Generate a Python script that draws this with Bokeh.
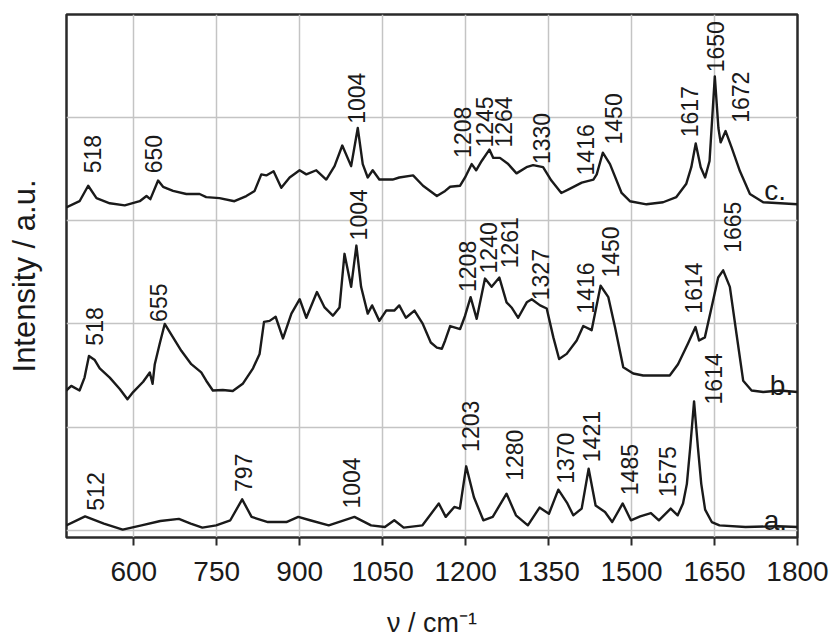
import math
from bokeh.plotting import figure
from bokeh.models import FixedTicker, LinearAxis
from bokeh.core.properties import value
from bokeh.embed import file_html
from bokeh.resources import INLINE

# ---- spectrum c (top) ----
wn_c = [478, 502, 517.6, 532.6, 556.6, 583.7, 610.8, 623, 630, 644, 653, 671, 695, 719, 731,
        755, 782, 803.5, 818.5, 830.6, 839.6, 852.8, 866.7, 881.8, 899.8, 912, 930, 948, 963,
        977, 993, 1005, 1014, 1023, 1032, 1044, 1068, 1080, 1105, 1123, 1148, 1163, 1172,
        1190, 1199, 1211, 1219, 1229, 1243, 1250, 1262, 1277, 1292, 1310, 1322, 1340, 1355,
        1373, 1388, 1410, 1431, 1437, 1448, 1461, 1482, 1497, 1527, 1557, 1581, 1599, 1608,
        1616, 1625, 1633, 1641, 1650.5, 1657, 1661, 1670, 1681, 1696, 1714, 1738, 1800]
int_c = [3.13, 3.19, 3.34, 3.22, 3.17, 3.15, 3.19, 3.24, 3.21, 3.39, 3.33, 3.29, 3.26, 3.26, 3.23,
         3.22, 3.19, 3.24, 3.29, 3.45, 3.44, 3.48, 3.32, 3.42, 3.49, 3.45, 3.49, 3.40, 3.53,
         3.73, 3.53, 3.90, 3.55, 3.42, 3.49, 3.40, 3.40, 3.42, 3.44, 3.34, 3.24, 3.29, 3.33,
         3.34, 3.42, 3.55, 3.49, 3.58, 3.69, 3.61, 3.61, 3.55, 3.46, 3.52, 3.54, 3.52, 3.39,
         3.27, 3.31, 3.37, 3.40, 3.45, 3.66, 3.55, 3.27, 3.19, 3.16, 3.18, 3.23, 3.36, 3.52,
         3.75, 3.52, 3.42, 3.58, 4.40, 3.90, 3.76, 3.87, 3.71, 3.48, 3.26, 3.18, 3.16]

# ---- spectrum b (middle) ----
wn_b = [478, 487, 502, 511, 519, 529.5, 538.5, 556.6, 574.7, 588.6, 598.9, 617, 629, 634, 638,
        647, 656, 671, 686, 704, 722, 731, 743, 761, 779, 797, 815.6, 827.5, 835.5, 845.6,
        856.5, 869.8, 885, 900, 912, 931.2, 945, 960, 972, 981, 993, 1002.5, 1011, 1023, 1031,
        1044, 1056.4, 1071, 1080, 1092, 1107.5, 1122.6, 1137, 1148, 1157, 1163, 1172, 1190,
        1199, 1209, 1220, 1235, 1247, 1261, 1274, 1283, 1295, 1310.5, 1319.5, 1334.6, 1346.6,
        1358.6, 1369, 1382.7, 1400.8, 1412.7, 1427.8, 1444, 1458, 1470, 1485, 1503, 1521, 1551,
        1569, 1584, 1602, 1615.6, 1622, 1632.5, 1644.6, 1656.6, 1665.6, 1677.7, 1689.8, 1701.8,
        1717, 1738, 1768, 1800]
int_b = [1.355, 1.40, 1.355, 1.48, 1.69, 1.65, 1.57, 1.48, 1.37, 1.27, 1.34, 1.44, 1.53, 1.42, 1.61,
         1.81, 2.00, 1.87, 1.74, 1.61, 1.53, 1.45, 1.355, 1.36, 1.35, 1.42, 1.57, 1.71, 2.02, 2.03,
         2.07, 1.86, 2.10, 2.24, 2.06, 2.31, 2.16, 2.08, 2.16, 2.68, 2.36, 2.76, 2.36, 2.10, 2.18,
         2.03, 2.13, 2.13, 2.18, 2.06, 2.13, 2.00, 1.82, 1.77, 1.76, 1.84, 1.98, 1.95,
         2.08, 2.26, 2.05, 2.44, 2.36, 2.45, 2.21, 2.16, 2.06, 2.21, 2.24, 2.18, 2.15,
         1.87, 1.66, 1.71, 1.84, 1.98, 1.94, 2.37, 2.26, 1.97, 1.58, 1.52, 1.50, 1.50,
         1.50, 1.61, 1.81, 1.97, 1.84, 1.87, 2.16, 2.45, 2.52, 2.36, 1.90, 1.45,
         1.355, 1.34, 1.355, 1.34]

# ---- spectrum a (bottom) ----
wn_a = [478, 512, 546, 580, 614, 648, 681.6, 703, 724, 749, 774.6, 796, 813, 842.5, 876, 897.4,
        918.7, 952.5, 999, 1029, 1054, 1071, 1088, 1122, 1151.5, 1164, 1179.5, 1189.6, 1201,
        1215, 1232, 1249, 1274, 1291, 1312.5, 1333.6, 1350.6, 1367.6, 1384, 1394.6, 1409.8,
        1422.4, 1435, 1452, 1465, 1484, 1498.8, 1515.6, 1535, 1549.4, 1570.7, 1583.4, 1593,
        1600, 1606, 1613, 1620, 1626, 1633, 1645, 1659, 1706, 1765, 1800]
int_a = [0.048, 0.135, 0.065, 0.007, 0.048, 0.09, 0.11, 0.065, 0.026, 0.048, 0.097, 0.30, 0.13,
         0.08, 0.08, 0.13, 0.097, 0.048, 0.13, 0.048, 0.032, 0.097, 0.026, 0.048, 0.26, 0.13,
         0.226, 0.21, 0.62, 0.32, 0.097, 0.13, 0.355, 0.145, 0.048, 0.22, 0.16, 0.394, 0.26,
         0.145, 0.21, 0.597, 0.24, 0.177, 0.08, 0.26, 0.097, 0.135, 0.167, 0.097, 0.21, 0.145,
         0.26, 0.45, 0.80, 1.25, 0.80, 0.45, 0.20, 0.08, 0.048, 0.032, 0.039, 0.032]

# ---- peak annotations: text, wavenumber, intensity where text starts ----
lab_c_text = ["518", "650", "1004", "1208", "1245", "1264", "1330", "1416", "1450", "1617", "1650", "1672"]
lab_c_x = [526, 636, 1002, 1195, 1235, 1269, 1337, 1417, 1467, 1605, 1652, 1697]
lab_c_y = [3.46, 3.46, 3.94, 3.61, 3.71, 3.71, 3.55, 3.44, 3.74, 3.81, 4.44, 3.95]

lab_b_text = ["518", "655", "1004", "1208", "1240", "1261", "1327", "1416", "1450", "1614", "1665"]
lab_b_x = [529, 644, 1006, 1203, 1241, 1279, 1336, 1417, 1462, 1612, 1682]
lab_b_y = [1.79, 2.02, 2.81, 2.31, 2.49, 2.54, 2.23, 2.10, 2.45, 2.10, 2.69]

lab_a_text = ["512", "797", "1004", "1203", "1280", "1370", "1421", "1485", "1575", "1614"]
lab_a_x = [530, 798, 993.5, 1208, 1288, 1380, 1428, 1496, 1565, 1648]
lab_a_y = [0.19, 0.37, 0.21, 0.76, 0.48, 0.45, 0.66, 0.34, 0.32, 1.22]

tag_text = ["c.", "b.", "a."]
tag_x = [1740, 1750, 1739]
tag_y = [3.29, 1.40, 0.097]

x_ticks = [600, 750, 900, 1050, 1200, 1350, 1500, 1650, 1800]
y_grid = [0, 1, 2, 3, 4]

FONT = "Liberation Sans"
INK = "#1a1a1a"

p = figure(width=830, height=640, x_range=(478.4, 1800), y_range=(-0.07, 5.0),
           output_backend="svg", toolbar_location=None,
           min_border_left=66, min_border_right=33, min_border_top=14, min_border_bottom=103)
p.background_fill_color = "white"
p.border_fill_color = "white"
p.outline_line_color = "#2a2a2a"
p.outline_line_width = 2.5

p.xaxis.ticker = FixedTicker(ticks=x_ticks)
p.xaxis.axis_line_color = None
p.xaxis.major_tick_line_color = "#2a2a2a"
p.xaxis.major_tick_line_width = 2
p.xaxis.major_tick_out = 8
p.xaxis.major_tick_in = 0
p.xaxis.minor_tick_line_color = None
p.xaxis.major_label_text_font = FONT
p.xaxis.major_label_text_font_size = "28px"
p.xaxis.major_label_text_color = INK
p.xaxis.major_label_standoff = 16
p.xaxis.axis_label = "ν / cm⁻¹"
p.xaxis.axis_label_text_font = FONT
p.xaxis.axis_label_text_font_size = "27px"
p.xaxis.axis_label_text_font_style = "normal"
p.xaxis.axis_label_text_color = INK
p.xaxis.axis_label_standoff = 24

# default y axis hidden; grid keeps its own ticker; a tick-free axis carries the label
p.yaxis.visible = False
ylab_axis = LinearAxis(ticker=FixedTicker(ticks=[]), axis_label="Intensity / a.u.",
                       axis_line_color=None, major_tick_line_color=None,
                       minor_tick_line_color=None, axis_label_text_font=FONT,
                       axis_label_text_font_size="31px", axis_label_text_font_style="normal",
                       axis_label_text_color=INK, axis_label_standoff=25)
p.add_layout(ylab_axis, "left")

p.xgrid.ticker = FixedTicker(ticks=x_ticks)
p.ygrid.ticker = FixedTicker(ticks=y_grid)
p.xgrid.grid_line_color = "#c4c4c4"
p.ygrid.grid_line_color = "#c4c4c4"
p.xgrid.grid_line_width = 1.5
p.ygrid.grid_line_width = 1.5

for wx, wy in ((wn_a, int_a), (wn_b, int_b), (wn_c, int_c)):
    p.line(wx, wy, line_color=INK, line_width=2.4, line_join="round")

for tx, xx, yy in ((lab_c_text, lab_c_x, lab_c_y), (lab_b_text, lab_b_x, lab_b_y),
                   (lab_a_text, lab_a_x, lab_a_y)):
    p.text(x=xx, y=yy, text=tx, angle=math.pi / 2, text_align="left", text_baseline="middle",
           text_font=value(FONT), text_font_size="23px", text_color=INK)

p.text(x=tag_x, y=tag_y, text=tag_text, text_align="left", text_baseline="alphabetic",
       text_font=value(FONT), text_font_size="28px", text_color=INK)

open("out.html", "w").write(file_html(p, INLINE))
